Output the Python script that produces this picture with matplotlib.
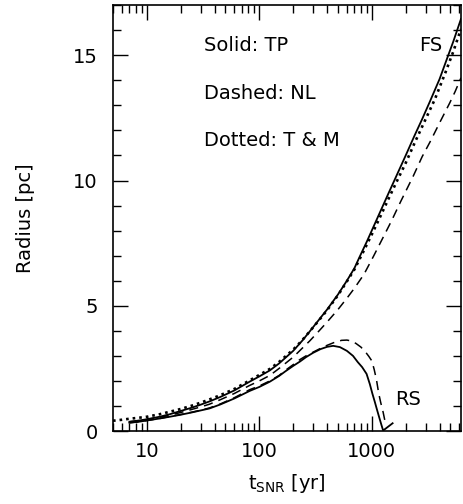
import numpy as np
import matplotlib
matplotlib.use("Agg")
import matplotlib.pyplot as plt
from matplotlib.ticker import LogLocator, NullFormatter, MultipleLocator, FixedLocator

# forward shock, TP (solid)
t_fs_tp = [7, 8.5, 10, 13, 16, 20, 25, 30, 36, 45, 60, 82, 100, 124, 150, 200, 240, 281, 340,
           400, 500, 600, 700, 782, 900, 1050, 1200, 1400, 1660, 2000, 2400, 2800, 3280, 4000,
           4500, 5300, 6200]
r_fs_tp = [0.37, 0.42, 0.47, 0.57, 0.67, 0.8, 0.93, 1.05, 1.18, 1.36, 1.62, 1.97, 2.18, 2.42, 2.7,
           3.2, 3.6, 3.98, 4.45, 4.85, 5.45, 6.0, 6.5, 6.97, 7.55, 8.22, 8.8, 9.47, 10.2, 11.0,
           11.8, 12.45, 13.15, 14.05, 14.68, 15.55, 16.45]

# forward shock, T & M (dotted)
t_fs_tm = [5, 6, 7, 8.5, 10, 13, 16, 20, 25, 30, 36, 45, 60, 82, 100, 124, 150, 200, 240, 281,
           340, 400, 500, 600, 700, 838, 1000, 1200, 1400, 1660, 2000, 2400, 2800, 3630, 4500,
           5300, 6200]
r_fs_tm = [0.41, 0.45, 0.49, 0.53, 0.57, 0.67, 0.77, 0.88, 1.01, 1.13, 1.26, 1.43, 1.68, 2.02,
           2.24, 2.48, 2.76, 3.25, 3.62, 3.98, 4.43, 4.82, 5.42, 5.97, 6.45, 7.15, 7.85, 8.6,
           9.25, 9.95, 10.7, 11.5, 12.15, 13.24, 14.3, 15.15, 16.05]

# forward shock, NL (dashed)
t_fs_nl = [7, 8.5, 10, 13, 16, 20, 25, 30, 36, 45, 60, 82, 100, 124, 150, 200, 240, 281, 340,
           400, 500, 600, 700, 850, 1033, 1250, 1500, 1800, 2330, 2800, 3300, 4000, 4930, 5500,
           6200]
r_fs_nl = [0.37, 0.41, 0.46, 0.55, 0.63, 0.74, 0.86, 0.96, 1.07, 1.25, 1.5, 1.82, 2.0, 2.22, 2.5,
           2.95, 3.3, 3.6, 4.0, 4.35, 4.85, 5.3, 5.7, 6.25, 6.97, 7.7, 8.4, 9.15, 10.17, 10.95,
           11.55, 12.3, 13.1, 13.55, 14.1]

# reverse shock, TP (solid)
t_rs_tp = [7, 8.5, 10, 13, 16, 20, 25, 30, 36, 45, 60, 82, 100, 124, 150, 170, 200, 229, 260,
           300, 350, 400, 453, 520, 600, 680, 750, 820, 898, 960, 1010, 1063, 1110, 1160, 1210,
           1260, 1530]
r_rs_tp = [0.33, 0.37, 0.42, 0.5, 0.57, 0.65, 0.74, 0.82, 0.9, 1.06, 1.3, 1.6, 1.76, 1.97, 2.2,
           2.38, 2.6, 2.77, 2.95, 3.12, 3.27, 3.36, 3.4, 3.35, 3.2, 3.0, 2.75, 2.55, 2.28, 1.87,
           1.5, 1.16, 0.86, 0.56, 0.28, 0.02, 0.31]

# reverse shock, NL (dashed)
t_rs_nl = [7, 8.5, 10, 13, 16, 20, 25, 30, 36, 45, 60, 82, 100, 124, 150, 170, 200, 229, 260,
           301, 350, 400, 460, 538, 600, 650, 720, 800, 880, 940, 1000, 1050, 1100, 1150, 1200,
           1260, 1330]
r_rs_nl = [0.33, 0.37, 0.42, 0.5, 0.58, 0.66, 0.75, 0.83, 0.92, 1.08, 1.33, 1.65, 1.8, 2.0, 2.22,
           2.42, 2.65, 2.85, 3.0, 3.15, 3.3, 3.42, 3.53, 3.62, 3.63, 3.6, 3.5, 3.35, 3.15, 2.98,
           2.8, 2.45, 2.04, 1.51, 1.13, 0.75, 0.24]

legend_lines = ["Solid: TP", "Dashed: NL", "Dotted: T & M"]

plt.rcParams['font.family'] = ['DejaVu Sans']
plt.rcParams['font.size'] = 14

fig = plt.figure(figsize=(4.64, 5.04), dpi=100)
ax = fig.add_axes([0.2435, 0.1448, 0.75, 0.845])

dash = (0, (6, 4))
dot = (0, (1, 1.5))
ax.plot(t_fs_tp, r_fs_tp, color='black', lw=1.3)
ax.plot(t_fs_tm, r_fs_tm, color='black', lw=1.9, linestyle=dot)
ax.plot(t_fs_nl, r_fs_nl, color='black', lw=1.1, linestyle=dash)
ax.plot(t_rs_tp, r_rs_tp, color='black', lw=1.3)
ax.plot(t_rs_nl, r_rs_nl, color='black', lw=1.1, linestyle=dash)

ax.set_xscale('log')
ax.set_xlim(5, 6200)
ax.set_ylim(0, 17)

ax.xaxis.set_major_locator(FixedLocator([10, 100, 1000]))
ax.xaxis.set_major_formatter(plt.FuncFormatter(lambda v, p: f"{int(v)}"))
ax.xaxis.set_minor_locator(LogLocator(base=10, subs=np.arange(2, 10)))
ax.xaxis.set_minor_formatter(NullFormatter())
ax.yaxis.set_major_locator(MultipleLocator(5))
ax.yaxis.set_minor_locator(MultipleLocator(1))

ax.tick_params(which='both', direction='in', top=True, right=True, width=1.0)
ax.tick_params(which='major', length=11)
ax.tick_params(which='minor', length=6)
ax.tick_params(axis='y', which='major', pad=11, labelsize=14)
ax.tick_params(axis='x', which='major', pad=8, labelsize=14)
for s in ax.spines.values():
    s.set_linewidth(1.2)

ax.set_ylabel('Radius [pc]', fontsize=14, labelpad=27)
ax.set_xlabel(r'$\mathregular{t_{SNR}}$ [yr]', fontsize=14, labelpad=8)

for i, txt in enumerate(legend_lines):
    ax.text(0.261, 0.905 - i * 0.112, txt, transform=ax.transAxes, fontsize=14,
            ha='left', va='center')

ax.text(0.88, 0.905, 'FS', transform=ax.transAxes, fontsize=14, ha='left', va='center')
ax.text(0.812, 0.074, 'RS', transform=ax.transAxes, fontsize=14, ha='left', va='center')

fig.savefig('out.png', dpi=100)
